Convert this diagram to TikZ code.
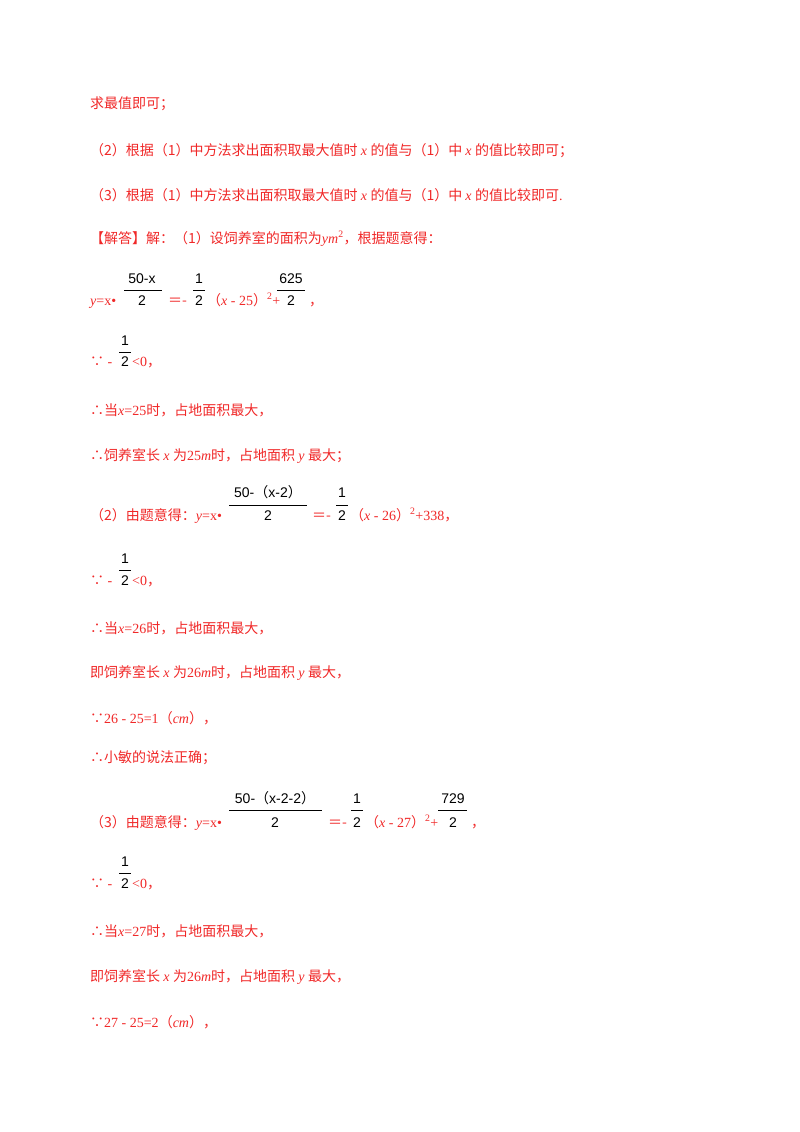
\documentclass[tikz,border=0pt]{standalone}
\usepackage{fontspec}
\setmainfont{Liberation Serif}
\newfontfamily\cjk{Noto Sans CJK SC}
\newfontfamily\fr{Liberation Sans}
\definecolor{rd}{RGB}{240,40,40}
\tikzset{t/.style={anchor=base west,inner sep=0pt,text=rd,font=\fontsize{14}{16}\selectfont},
 fn/.style={anchor=base,inner sep=0pt,text=black,font=\fr\fontsize{14}{16}\selectfont},
 fl/.style={black,line width=0.8pt}}
\begin{document}
\begin{tikzpicture}[x=1pt,y=1pt]
\useasboundingbox (0,0) rectangle (800,-1132);
\node[t] (l1) at (90,-108) {\cjk 求最值即可；};
\node[t] (l2) at (90,-155) {\cjk （2）根据（1）中方法求出面积取最大值时 \rm\itshape x \cjk 的值与（1）中 \rm\itshape x \cjk 的值比较即可；};
\node[t] (l3) at (90,-200) {\cjk （3）根据（1）中方法求出面积取最大值时 \rm\itshape x \cjk 的值与（1）中 \rm\itshape x \cjk 的值比较即可\rm .};
\node[t] (l4) at (90,-243) {\cjk 【解答】解：（1）设饲养室的面积为\rm\itshape ym\textsuperscript{\upshape 2}\cjk ，根据题意得：};
% line 5
\node[t] (a1) at (90,-305) {\itshape y\upshape =x\textbullet};
\node[fn] (a2) at (142,-283) {50-x};
\draw[fl] (124,-290) -- (162,-290);
\node[fn] (a3) at (142,-305) {2};
\node[t] (a4) at (168,-305) {\cjk ＝-};
\node[fn] (a5) at (199,-283) {1};
\draw[fl] (193,-290) -- (205,-290);
\node[fn] (a6) at (199,-305) {2};
\node[t] (a7) at (207,-305) {\cjk （\rm\itshape x\upshape\ - 25\cjk ）\rm\textsuperscript{2}+};
\node[fn] (a8) at (291,-283) {625};
\draw[fl] (277,-290) -- (305,-290);
\node[fn] (a9) at (291,-305) {2};
\node[t] (a10) at (309,-305) {\cjk ，};
% line 6
\node[t] (b1) at (90,-366) {\cjk ∵\rm\ -};
\node[fn] (b2) at (125,-345) {1};
\draw[fl] (119,-352) -- (131,-352);
\node[fn] (b3) at (125,-366) {2};
\node[t] (b4) at (132,-366) {<0\cjk ，};
\node[t] (l7) at (90,-415) {\cjk ∴当\rm\itshape x\upshape =25\cjk 时，占地面积最大，};
\node[t] (l8) at (90,-460) {\cjk ∴饲养室长 \rm\itshape x \upshape\cjk 为\rm 25\itshape m\upshape\cjk 时，占地面积 \rm\itshape y \upshape\cjk 最大；};
% line 9
\node[t] (c1) at (90,-520) {\cjk （2）由题意得：\rm\itshape y\upshape =x\textbullet};
\node[fn] (c2) at (268,-497) {50-\cjk （\fr x-2\cjk ）};
\draw[fl] (229,-505) -- (307,-505);
\node[fn] (c3) at (268,-520) {2};
\node[t] (c4) at (312,-520) {\cjk ＝-};
\node[fn] (c5) at (342,-497) {1};
\draw[fl] (336,-505) -- (348,-505);
\node[fn] (c6) at (342,-520) {2};
\node[t] (c7) at (350,-520) {\cjk （\rm\itshape x\upshape\ - 26\cjk ）\rm\textsuperscript{2}+338\cjk ，};
% line 10
\node[t] (d1) at (90,-585) {\cjk ∵\rm\ -};
\node[fn] (d2) at (125,-563) {1};
\draw[fl] (119,-570) -- (131,-570);
\node[fn] (d3) at (125,-585) {2};
\node[t] (d4) at (132,-585) {<0\cjk ，};
\node[t] (l11) at (90,-633) {\cjk ∴当\rm\itshape x\upshape =26\cjk 时，占地面积最大，};
\node[t] (l12) at (90,-677) {\cjk 即饲养室长 \rm\itshape x \upshape\cjk 为\rm 26\itshape m\upshape\cjk 时，占地面积 \rm\itshape y \upshape\cjk 最大，};
\node[t] (l13) at (90,-723) {\cjk ∵\rm 26 - 25=1\cjk （\rm\itshape cm\upshape\cjk ），};
\node[t] (l14) at (90,-762) {\cjk ∴小敏的说法正确；};
% line 15
\node[t] (e1) at (90,-827) {\cjk （3）由题意得：\rm\itshape y\upshape =x\textbullet};
\node[fn] (e2) at (275,-803) {50-\cjk （\fr x-2-2\cjk ）};
\draw[fl] (229,-810) -- (322,-810);
\node[fn] (e3) at (275,-827) {2};
\node[t] (e4) at (328,-827) {\cjk ＝-};
\node[fn] (e5) at (357,-803) {1};
\draw[fl] (351,-810) -- (363,-810);
\node[fn] (e6) at (357,-827) {2};
\node[t] (e7) at (365,-827) {\cjk （\rm\itshape x\upshape\ - 27\cjk ）\rm\textsuperscript{2}+};
\node[fn] (e8) at (453,-803) {729};
\draw[fl] (438,-810) -- (467,-810);
\node[fn] (e9) at (453,-827) {2};
\node[t] (e10) at (471,-827) {\cjk ，};
% line 16
\node[t] (f1) at (90,-888) {\cjk ∵\rm\ -};
\node[fn] (f2) at (125,-866) {1};
\draw[fl] (119,-873) -- (131,-873);
\node[fn] (f3) at (125,-888) {2};
\node[t] (f4) at (132,-888) {<0\cjk ，};
\node[t] (l17) at (90,-936) {\cjk ∴当\rm\itshape x\upshape =27\cjk 时，占地面积最大，};
\node[t] (l18) at (90,-981) {\cjk 即饲养室长 \rm\itshape x \upshape\cjk 为\rm 26\itshape m\upshape\cjk 时，占地面积 \rm\itshape y \upshape\cjk 最大，};
\node[t] (l19) at (90,-1027) {\cjk ∵\rm 27 - 25=2\cjk （\rm\itshape cm\upshape\cjk ），};
\end{tikzpicture}
\end{document}
